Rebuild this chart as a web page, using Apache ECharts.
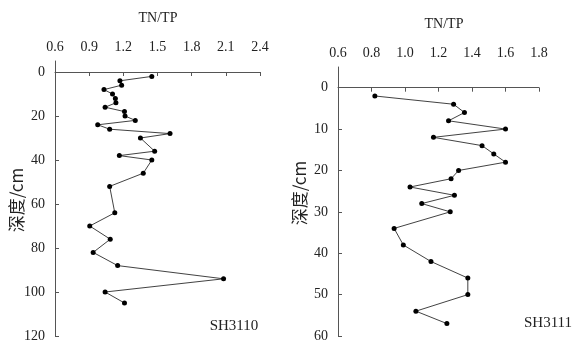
<!DOCTYPE html>
<html>
<head>
<meta charset="utf-8">
<script src="https://cdn.jsdelivr.net/npm/echarts@6/dist/echarts.min.js"></script>
<style>
  html, body { margin: 0; padding: 0; background: #fff; }
  #chart { width: 576px; height: 343px; }
</style>
</head>
<body>
<div id="chart"></div>
<script>
// Core SH3110: depth (cm) and TN/TP ratio
const depth1 = [2, 4, 6, 8, 10, 12, 14, 16, 18, 20, 22, 24, 26, 28, 30, 36, 38, 40, 46, 52, 64, 70, 76, 82, 88, 94, 100, 105];
const ratio1 = [1.45, 1.17, 1.185, 1.03, 1.105, 1.13, 1.135, 1.04, 1.21, 1.215, 1.305, 0.975, 1.08, 1.61, 1.35, 1.475, 1.165, 1.45, 1.375, 1.08, 1.125, 0.905, 1.085, 0.935, 1.15, 2.08, 1.04, 1.21];

// Core SH3111: depth (cm) and TN/TP ratio
const depth2 = [2, 4, 6, 8, 10, 12, 14, 16, 18, 20, 22, 24, 26, 28, 30, 34, 38, 42, 46, 50, 54, 57];
const ratio2 = [0.82, 1.29, 1.355, 1.26, 1.60, 1.17, 1.46, 1.53, 1.60, 1.32, 1.275, 1.03, 1.295, 1.10, 1.27, 0.935, 0.99, 1.155, 1.375, 1.375, 1.065, 1.25];

// Tick labels
const xTicks1 = [0.6, 0.9, 1.2, 1.5, 1.8, 2.1, 2.4];
const yTicks1 = [0, 20, 40, 60, 80, 100, 120];
const xTicks2 = [0.6, 0.8, 1.0, 1.2, 1.4, 1.6, 1.8];
const yTicks2 = [0, 10, 20, 30, 40, 50, 60];

const SERIF = '"Liberation Serif", "DejaVu Serif", serif';
const CJK = '"Noto Sans CJK SC", sans-serif';
const AXIS_COLOR = '#555';

function xAxisFor(ticks, gridIndex) {
  return {
    type: 'value',
    gridIndex: gridIndex,
    position: 'top',
    min: ticks[0],
    max: ticks[ticks.length - 1],
    axisLine: { show: true, lineStyle: { color: AXIS_COLOR, width: 1 } },
    axisTick: { show: true, inside: true, length: 4, customValues: ticks, lineStyle: { color: AXIS_COLOR } },
    axisLabel: {
      customValues: ticks,
      margin: 7,
      color: '#222',
      fontFamily: SERIF,
      fontSize: 14,
      formatter: v => v.toFixed(1)
    },
    splitLine: { show: false }
  };
}

function yAxisFor(ticks, gridIndex) {
  return {
    type: 'value',
    gridIndex: gridIndex,
    inverse: true,
    min: -5,
    max: ticks[ticks.length - 1],
    axisLine: { show: true, onZero: false, lineStyle: { color: AXIS_COLOR, width: 1 } },
    axisTick: { show: true, inside: true, length: 4, customValues: ticks, lineStyle: { color: AXIS_COLOR } },
    axisLabel: {
      customValues: ticks,
      margin: 10,
      color: '#222',
      fontFamily: SERIF,
      fontSize: 14
    },
    splitLine: { show: false }
  };
}

function seriesFor(xs, ys, idx) {
  return {
    type: 'line',
    xAxisIndex: idx,
    yAxisIndex: idx,
    data: xs.map((x, i) => [x, ys[i]]),
    symbol: 'circle',
    symbolSize: 5,
    lineStyle: { color: '#111', width: 0.8 },
    itemStyle: { color: '#000' },
    silent: true,
    animation: false
  };
}

const chart = echarts.init(document.getElementById('chart'), null, { renderer: 'canvas' });

chart.setOption({
  backgroundColor: '#fff',
  animation: false,
  grid: [
    { left: 55, top: 61, width: 205, height: 275 },
    { left: 338, top: 67, width: 201, height: 270 }
  ],
  xAxis: [xAxisFor(xTicks1, 0), xAxisFor(xTicks2, 1)],
  yAxis: [yAxisFor(yTicks1, 0), yAxisFor(yTicks2, 1)],
  series: [seriesFor(ratio1, depth1, 0), seriesFor(ratio2, depth2, 1)],
  graphic: [
    { type: 'text', x: 158, y: 18, style: { text: 'TN/TP', font: '14px ' + SERIF, fill: '#222', align: 'center', verticalAlign: 'middle' } },
    { type: 'text', x: 444, y: 24, style: { text: 'TN/TP', font: '14px ' + SERIF, fill: '#222', align: 'center', verticalAlign: 'middle' } },
    { type: 'text', x: 17, y: 200, rotation: Math.PI / 2, style: { text: '深度/cm', font: '17px ' + CJK, fill: '#222', align: 'center', verticalAlign: 'middle' } },
    { type: 'text', x: 300, y: 193, rotation: Math.PI / 2, style: { text: '深度/cm', font: '17px ' + CJK, fill: '#222', align: 'center', verticalAlign: 'middle' } },
    { type: 'text', x: 234, y: 326, style: { text: 'SH3110', font: '15px ' + SERIF, fill: '#222', align: 'center', verticalAlign: 'middle' } },
    { type: 'text', x: 548, y: 323, style: { text: 'SH3111', font: '15px ' + SERIF, fill: '#222', align: 'center', verticalAlign: 'middle' } }
  ]
});
</script>
</body>
</html>
